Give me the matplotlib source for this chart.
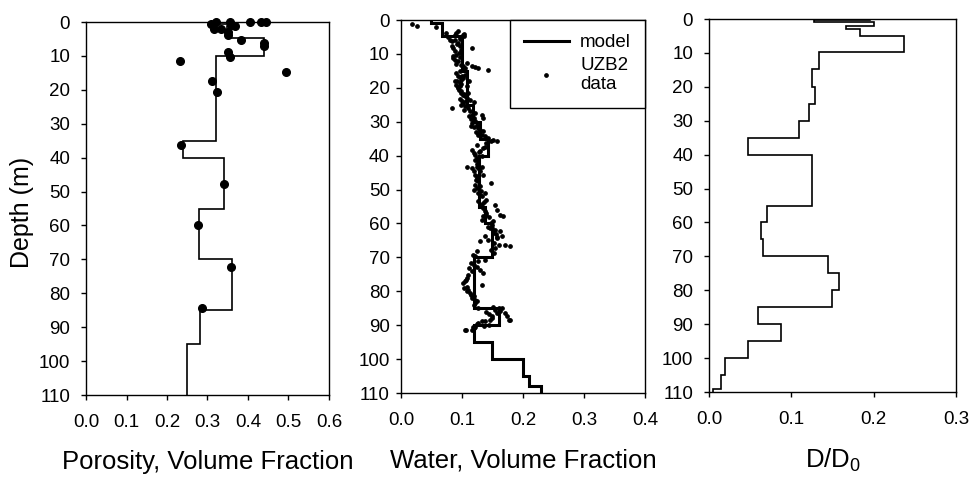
"""
Porosity, water content and relative diffusivity profiles vs depth
"""

import matplotlib.pyplot as plt
import numpy as np

plt.rcParams['font.family'] = ['Liberation Sans', 'DejaVu Sans']
plt.rcParams['mathtext.default'] = 'regular'

# porosity model (step profile) and measured points
por_edges = [0, 0.5, 1.2, 4.8, 10, 35, 40, 55, 70, 85, 95, 110]
por_model = [0.32, 0.365, 0.347, 0.44, 0.32, 0.239, 0.34, 0.28, 0.36, 0.281, 0.25]
por_val = [0.308, 0.321, 0.315, 0.334, 0.356, 0.358, 0.368, 0.35, 0.35, 0.406,
           0.432, 0.445, 0.383, 0.44, 0.44, 0.35, 0.356, 0.493, 0.311, 0.323,
           0.232, 0.234, 0.342, 0.277, 0.357, 0.286]
por_depth = [0.5, 0.1, 2.2, 2.1, 0.0, 0.8, 1.1, 2.8, 3.9, 0.0,
             0.0, 0.1, 5.4, 6.2, 7.2, 8.7, 10.2, 14.6, 17.5, 20.5,
             11.4, 36.3, 47.8, 60.0, 72.3, 84.4]

# water content model and UZB2 data
wat_edges = [0, 0.8, 4.8, 15, 25, 30, 35, 40, 55, 60, 70, 85, 90, 95, 100, 105, 108, 110]
wat_model = [0.05, 0.068, 0.10, 0.109, 0.118, 0.13, 0.142, 0.128, 0.138, 0.149,
             0.12, 0.161, 0.119, 0.15, 0.2, 0.21, 0.23]
wat_val = [0.018, 0.027, 0.058,
           0.073, 0.077, 0.080, 0.083, 0.089, 0.091, 0.094, 0.097, 0.101, 0.104,
           0.083, 0.086, 0.089, 0.091, 0.094, 0.097, 0.099, 0.116, 0.086, 0.089,
           0.094, 0.097,
           0.099, 0.102, 0.105, 0.116, 0.121, 0.127, 0.142, 0.108, 0.097,
           0.091, 0.094, 0.089, 0.091, 0.097, 0.099, 0.102, 0.105, 0.094, 0.099,
           0.101, 0.105, 0.108, 0.110, 0.113, 0.119, 0.102, 0.105, 0.083, 0.097,
           0.108, 0.111,
           0.113, 0.116, 0.119, 0.121, 0.124, 0.127, 0.130, 0.132, 0.135, 0.121,
           0.127, 0.132, 0.135, 0.138, 0.143, 0.148, 0.151, 0.157, 0.140,
           0.116, 0.119, 0.121, 0.124, 0.127, 0.130, 0.132, 0.135, 0.138, 0.108,
           0.116, 0.119, 0.121, 0.124, 0.127, 0.130, 0.121, 0.124, 0.119, 0.127,
           0.130, 0.132, 0.138, 0.140, 0.148, 0.135, 0.132, 0.124,
           0.135, 0.138, 0.140, 0.135, 0.132, 0.154, 0.157, 0.162, 0.168, 0.151,
           0.149, 0.146, 0.154, 0.162, 0.165, 0.157, 0.151, 0.143, 0.138, 0.130,
           0.160, 0.170, 0.179, 0.154,
           0.124, 0.121, 0.127, 0.124, 0.130, 0.119, 0.116, 0.110, 0.108, 0.105,
           0.102, 0.108, 0.110, 0.113, 0.119, 0.121, 0.124, 0.119, 0.132, 0.135,
           0.138,
           0.151, 0.154, 0.157, 0.160, 0.162, 0.165, 0.170, 0.173, 0.179, 0.149,
           0.146, 0.138, 0.132, 0.127, 0.121, 0.119, 0.116, 0.105, 0.107, 0.177,
           # extra points in the dense parts of the cloud
           0.088, 0.092, 0.095, 0.086, 0.090, 0.096, 0.093, 0.098, 0.100, 0.096,
           0.103, 0.092, 0.095, 0.098, 0.100, 0.103, 0.096, 0.099, 0.104, 0.107,
           0.110, 0.112, 0.115, 0.117, 0.114, 0.120, 0.123, 0.126, 0.125, 0.128,
           0.122, 0.125, 0.128, 0.126, 0.123, 0.129, 0.131, 0.127, 0.133, 0.136,
           0.139, 0.145, 0.143, 0.147, 0.150, 0.155, 0.153, 0.158, 0.147, 0.152,
           0.118, 0.115, 0.112, 0.106, 0.104, 0.109, 0.114, 0.117, 0.122, 0.126,
           0.140, 0.145, 0.150, 0.144, 0.136, 0.124, 0.118]
wat_depth = [1.2, 1.9, 2.2,
             3.8, 5.1, 5.8, 6.3, 4.5, 3.8, 3.3, 5.1, 4.3, 4.8,
             7.8, 8.3, 9.2, 10.2, 6.8, 7.8, 8.8, 8.3, 11.2, 11.7,
             12.2, 11.0,
             13.2, 13.7, 14.2, 13.7, 14.0, 14.2, 14.8, 12.7, 15.1,
             15.6, 16.6, 18.1, 19.1, 18.6, 17.6, 17.1, 16.1, 20.1, 21.0,
             22.0, 22.5, 23.0, 21.5, 23.5, 24.2, 24.5, 25.5, 26.0, 19.6,
             19.6, 18.1,
             26.9, 27.9, 28.9, 29.9, 30.9, 31.9, 32.4, 27.9, 28.9, 27.4,
             33.3, 33.8, 32.8, 34.3, 34.8, 35.8, 35.3, 35.8, 36.3,
             38.3, 39.2, 39.7, 40.7, 41.7, 38.7, 40.2, 37.8, 37.3, 43.2,
             43.7, 44.6, 45.6, 46.6, 47.6, 44.6, 48.6, 49.6, 50.0, 51.0,
             51.5, 52.0, 51.0, 53.0, 48.1, 45.6, 43.2, 43.2,
             55.5, 56.4, 57.4, 57.9, 58.9, 54.5, 55.9, 57.4, 57.9, 59.4,
             60.4, 61.4, 61.8, 62.3, 63.8, 64.3, 62.8, 64.8, 63.8, 65.3,
             66.3, 66.3, 66.5, 67.3,
             68.2, 69.7, 71.2, 72.7, 73.6, 72.2, 74.1, 75.1, 76.1, 77.1,
             77.6, 78.6, 79.5, 80.5, 81.5, 82.5, 83.0, 84.0, 78.1, 74.6,
             70.7,
             84.5, 85.4, 86.4, 85.0, 85.9, 85.0, 86.4, 87.4, 88.4, 87.4,
             88.4, 88.9, 88.9, 89.4, 90.4, 90.9, 91.3, 91.3, 91.4, 88.6,
             6.0, 7.2, 9.8, 10.6, 12.9, 16.9, 19.8, 21.4, 23.8, 5.5,
             4.0, 17.9, 20.6, 18.9, 16.5, 21.8, 23.2, 25.1, 26.4, 24.0,
             25.9, 28.2, 29.3, 30.4, 31.2, 31.5, 33.0, 34.0, 37.0, 39.0,
             41.2, 42.5, 44.0, 46.0, 47.2, 49.0, 50.5, 53.5, 54.2, 53.8,
             56.9, 58.2, 60.9, 59.8, 61.2, 63.2, 65.8, 64.0, 67.8, 68.8,
             69.2, 71.8, 73.0, 76.6, 79.0, 80.0, 81.0, 82.0, 83.6, 84.8,
             86.0, 86.8, 87.8, 89.8, 90.2, 89.6, 90.6]

# relative diffusivity D/D0
dif_edges = [0, 0.4, 0.9, 2.1, 2.9, 4.9, 9.8, 14.8, 20, 25, 30, 35, 40, 55, 60,
             65, 70, 75, 80, 85, 90, 95, 100, 105, 109, 110]
dif_model = [0.196, 0.128, 0.2, 0.166, 0.183, 0.237, 0.133, 0.125, 0.129, 0.121,
             0.109, 0.047, 0.125, 0.070, 0.063, 0.066, 0.145, 0.158, 0.149, 0.060,
             0.087, 0.047, 0.019, 0.015, 0.005]

depth_ticks = np.arange(0, 111, 10)

fig = plt.figure(figsize=(9.73, 4.78), dpi=100)
ax1 = fig.add_axes([0.0884, 0.1736, 0.2497, 0.7803])
ax2 = fig.add_axes([0.4121, 0.1778, 0.2508, 0.7803])
ax3 = fig.add_axes([0.7287, 0.1799, 0.2539, 0.7803])

ax1.stairs(por_model, por_edges, orientation='horizontal', baseline=None,
           color='black', lw=1.2)
ax1.plot(por_val, por_depth, 'o', color='black', ms=5.5, clip_on=False)
ax1.set_xlim(0, 0.6)
ax1.set_xticks(np.arange(0, 0.61, 0.1))
ax1.set_ylabel('Depth (m)')
ax1.yaxis.set_label_coords(-0.213, 0.49)
ax1.set_xlabel('Porosity, Volume Fraction')

ax2.stairs(wat_model, wat_edges, orientation='horizontal', baseline=None,
           color='black', lw=2.2, label='model')
ax2.plot(wat_val, wat_depth, 'o', color='black', ms=2.4, ls='none',
         clip_on=False, label='UZB2\ndata')
ax2.set_xlim(0, 0.4)
ax2.set_xticks(np.arange(0, 0.41, 0.1))
ax2.set_xlabel('Water, Volume Fraction')
leg = ax2.legend(loc='upper right', borderaxespad=0, fancybox=False,
                 edgecolor='black', framealpha=1, handlelength=2.4,
                 handletextpad=0.6, fontsize=13.5, borderpad=0.75,
                 labelspacing=0.3)
leg.get_frame().set_linewidth(1.0)

ax3.stairs(dif_model, dif_edges, orientation='horizontal', baseline=None,
           color='black', lw=1.2)
ax3.set_xlim(0, 0.3)
ax3.set_xticks(np.arange(0, 0.31, 0.1))
ax3.set_xlabel('D/D$_0$')

for ax in (ax1, ax2, ax3):
    ax.set_ylim(110, 0)
    ax.set_yticks(depth_ticks)
    ax.xaxis.set_major_formatter(plt.FormatStrFormatter('%.1f'))
    ax.tick_params(labelsize=13.5, length=3.5, width=1, direction='out')
    ax.tick_params(axis='x', pad=10)
    ax.tick_params(axis='y', pad=8)
    ax.xaxis.label.set_size(18.5)
    ax.yaxis.label.set_size(18)
    ax.xaxis.set_label_coords(0.5, -0.148)
    for sp in ax.spines.values():
        sp.set_linewidth(1.0)
ax2.tick_params(axis='y', pad=4.5)

fig.savefig('out.png', dpi=100)
